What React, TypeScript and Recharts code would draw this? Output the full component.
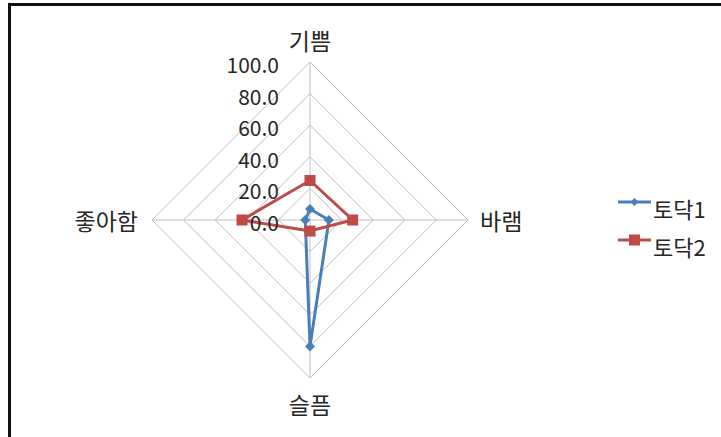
import { Legend, PolarAngleAxis, PolarGrid, PolarRadiusAxis, Radar, RadarChart } from "recharts";

const categories = ["기쁨", "바램", "슬픔", "좋아함"];
const todak1 = [7, 12, 80, 3];
const todak2 = [25, 27, 7, 43];
const radiusTicks = [0, 20, 40, 60, 80, 100];

const BLUE = "#4A7EBB";
const RED = "#BE4B48";
const FONT = '"Noto Sans CJK KR", "Noto Sans", sans-serif';

const data = categories.map((name, i) => ({
  name,
  todak1: todak1[i],
  todak2: todak2[i],
}));

function AngleTick(props: any) {
  const { x, y, payload } = props;
  let dx = 0;
  let dy = 0;
  let anchor: "middle" | "start" | "end" = "middle";
  if (payload.index === 0) dy = -14;
  if (payload.index === 2) dy = 18;
  if (payload.index === 1) {
    anchor = "start";
    dx = 4;
  }
  if (payload.index === 3) {
    anchor = "end";
    dx = -6;
  }
  return (
    <text
      x={x + dx}
      y={y + dy}
      textAnchor={anchor}
      dominantBaseline="central"
      fill="#262626"
      fontSize={23}
      fontFamily={FONT}
    >
      {payload.value}
    </text>
  );
}

function RadiusTick(props: any) {
  const { x, y, payload } = props;
  return (
    <text
      x={x - 31}
      y={y + 2}
      textAnchor="end"
      dominantBaseline="central"
      fill="#262626"
      fontSize={21}
      fontFamily={FONT}
    >
      {Number(payload.value).toFixed(1)}
    </text>
  );
}

function Diamond(props: any) {
  const { cx, cy } = props;
  return (
    <path
      d={`M${cx},${cy - 5} L${cx + 5},${cy} L${cx},${cy + 5} L${cx - 5},${cy} Z`}
      fill={BLUE}
    />
  );
}

function Square(props: any) {
  const { cx, cy } = props;
  return <rect x={cx - 5.5} y={cy - 5.5} width={11} height={11} fill={RED} />;
}

function LegendBox() {
  const items = [
    { label: "토닥1", color: BLUE, square: false },
    { label: "토닥2", color: RED, square: true },
  ];
  return (
    <div style={{ fontFamily: FONT }}>
      {items.map((it) => (
        <div key={it.label} style={{ display: "flex", alignItems: "center", height: 38 }}>
          <svg width={35} height={30} style={{ marginRight: 1 }}>
            <line x1={1} y1={9} x2={34} y2={9} stroke={it.color} strokeWidth={3} />
            {it.square ? (
              <rect x={12} y={3.5} width={11} height={11} fill={it.color} />
            ) : (
              <path d="M17.5,5 L21.5,9 L17.5,13 L13.5,9 Z" fill={it.color} />
            )}
          </svg>
          <span style={{ fontSize: 22, color: "#262626" }}>{it.label}</span>
        </div>
      ))}
    </div>
  );
}

export default function App() {
  return (
    <div
      style={{
        position: "fixed",
        left: 0,
        top: 0,
        width: 721,
        height: 437,
        background: "#fff",
        overflow: "hidden",
      }}
    >
      <div
        style={{
          position: "absolute",
          left: 8,
          top: 3,
          width: 713,
          height: 434,
          borderTop: "3px solid #111",
          borderLeft: "3px solid #111",
          boxSizing: "border-box",
        }}
      />
      <RadarChart
        width={721}
        height={437}
        data={data}
        cx={310}
        cy={220}
        outerRadius={158}
        startAngle={90}
        endAngle={-270}
      >
        <PolarGrid gridType="polygon" stroke="#BFBFBF" strokeWidth={1} />
        <PolarAngleAxis dataKey="name" tick={<AngleTick />} tickLine={false} axisLine={false} />
        <PolarRadiusAxis
          angle={90}
          domain={[0, 100]}
          ticks={radiusTicks as any}
          tickCount={6}
          axisLine={false}
          tick={<RadiusTick />}
        />
        <Radar
          name="토닥1"
          dataKey="todak1"
          stroke={BLUE}
          strokeWidth={3}
          fill="none"
          fillOpacity={0}
          dot={<Diamond />}
          isAnimationActive={false}
        />
        <Radar
          name="토닥2"
          dataKey="todak2"
          stroke={RED}
          strokeWidth={3}
          fill="none"
          fillOpacity={0}
          dot={<Square />}
          isAnimationActive={false}
        />
        <Legend
          content={<LegendBox />}
          wrapperStyle={{ left: 617, top: 189, width: 104 }}
        />
      </RadarChart>
    </div>
  );
}
